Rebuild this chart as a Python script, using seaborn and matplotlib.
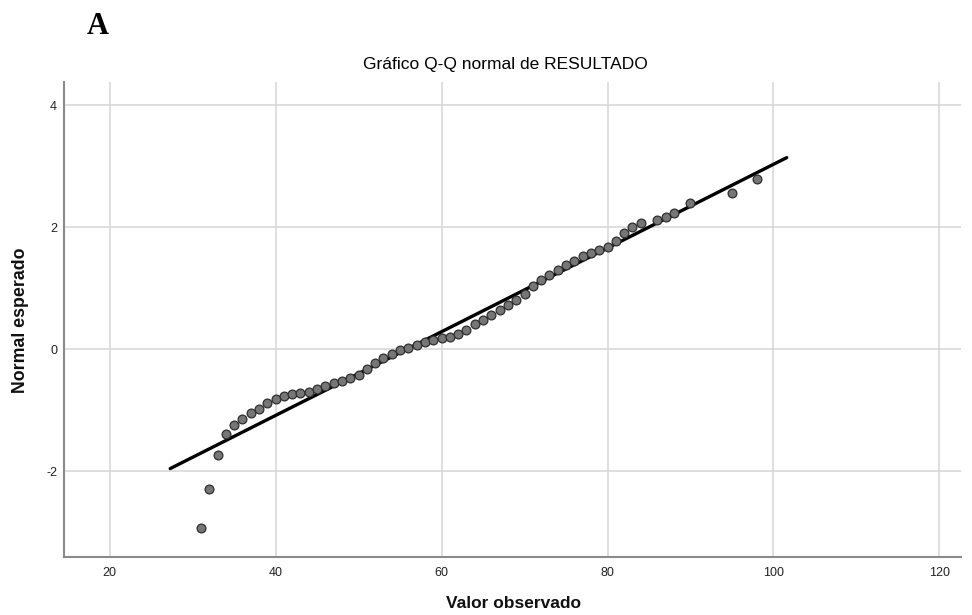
import matplotlib
matplotlib.use("Agg")
import matplotlib.pyplot as plt
import seaborn as sns
import pandas as pd

# ---- data ----
observed = [31, 32, 33, 34, 35, 36, 37, 38, 39, 40,
            41, 42, 43, 44, 45, 46, 47, 48, 49, 50,
            51, 52, 53, 54, 55, 56, 57, 58, 59, 60,
            61, 62, 63, 64, 65, 66, 67, 68, 69, 70,
            71, 72, 73, 74, 75, 76, 77, 78, 79, 80,
            81, 82, 83, 84, 86, 87, 88, 90, 95, 98]
expected = [-2.94, -2.30, -1.74, -1.40, -1.25, -1.14, -1.05, -0.98, -0.89, -0.82,
            -0.77, -0.74, -0.72, -0.70, -0.66, -0.61, -0.56, -0.52, -0.48, -0.43,
            -0.33, -0.23, -0.15, -0.08, -0.02, 0.02, 0.06, 0.11, 0.15, 0.18,
            0.20, 0.25, 0.32, 0.41, 0.48, 0.56, 0.64, 0.72, 0.81, 0.91,
            1.03, 1.13, 1.21, 1.30, 1.38, 1.45, 1.52, 1.58, 1.62, 1.67,
            1.77, 1.90, 2.00, 2.07, 2.11, 2.16, 2.23, 2.39, 2.56, 2.79]
line_x = [27.3, 101.6]
line_y = [-1.96, 3.14]
x_ticks = [20, 40, 60, 80, 100, 120]
y_ticks = [-2, 0, 2, 4]

title = "Gráfico Q-Q normal de RESULTADO"
x_label = "Valor observado"
y_label = "Normal esperado"
panel = "A"

pts = pd.DataFrame({"obs": observed, "exp": expected})
ref = pd.DataFrame({"x": line_x, "y": line_y})

sns.set_style("white")
plt.rcParams["font.family"] = ["Liberation Sans", "DejaVu Sans"]
plt.rcParams["axes.unicode_minus"] = False

W, H = 972, 615
fig = plt.figure(figsize=(W / 100, H / 100), dpi=100)
L, R, T, B = 64, 961, 82, 557
ax = fig.add_axes([L / W, 1 - B / H, (R - L) / W, (B - T) / H])

ax.set_xlim(14.5, 122.6)
ax.set_ylim(-3.41, 4.38)
ax.set_xticks(x_ticks)
ax.set_yticks(y_ticks)
ax.set_xticklabels([str(v) for v in x_ticks])
ax.set_yticklabels([str(v) for v in y_ticks])
ax.grid(True, color="#d6d6d6", linewidth=1.1)
ax.set_axisbelow(True)

sns.lineplot(data=ref, x="x", y="y", ax=ax, color="black", linewidth=2.4,
             zorder=3)
sns.scatterplot(data=pts, x="obs", y="exp", ax=ax, s=40, color="#767676",
                edgecolor="#2e2e2e", linewidth=0.9, zorder=4)

ax.set_xlabel("")
ax.set_ylabel("")
for side in ["top", "right"]:
    ax.spines[side].set_visible(False)
for side in ["left", "bottom"]:
    ax.spines[side].set_color("#8a8a8a")
    ax.spines[side].set_linewidth(1.5)
ax.tick_params(axis="both", length=0, labelsize=9, colors="#222222")
ax.tick_params(axis="x", pad=7)
ax.tick_params(axis="y", pad=5)

fig.text(505 / W, 1 - 65 / H, title, ha="center", va="center",
         fontsize=12.5, color="#000000")
fig.text(513 / W, 1 - 603 / H, x_label, ha="center", va="center",
         fontsize=12.5, fontweight="bold", color="#111111")
fig.text(21 / W, 1 - 320 / H, y_label, ha="center", va="center",
         rotation=90, fontsize=12.8, fontweight="bold", color="#111111")
fig.text(98 / W, 1 - 26 / H, panel, ha="center", va="center",
         fontsize=22, fontweight="bold", family="Liberation Serif",
         color="black")

fig.savefig("out.png", dpi=100)
